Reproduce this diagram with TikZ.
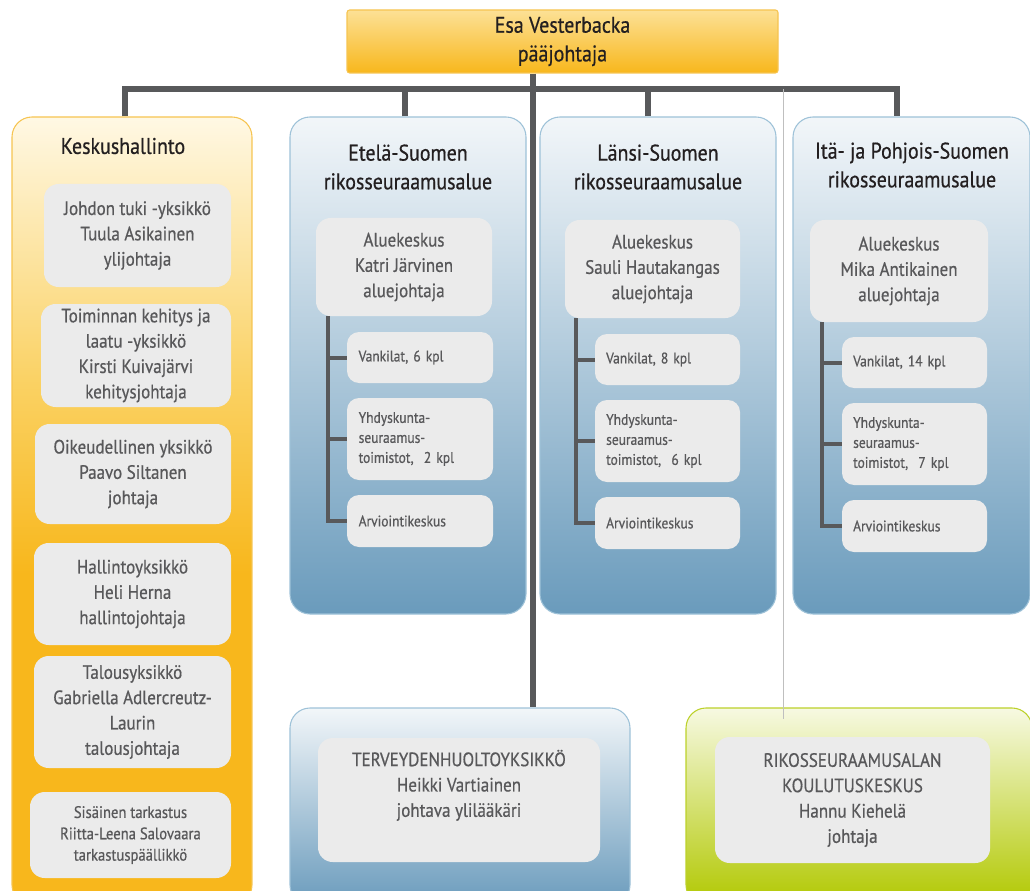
\documentclass[tikz,border=0pt]{standalone}
\usepackage{fontspec}
\setmainfont{PT Sans}[FakeStretch=0.88, FakeBold=0.6]
\usepackage{tikz}

\definecolor{linegrey}{HTML}{58595B}
\definecolor{boxgrey}{HTML}{EBEBEB}
\definecolor{txtgrey}{HTML}{58585A}
\definecolor{txtdark}{HTML}{231F20}
\definecolor{blueTop}{HTML}{F2F6F9}
\definecolor{blueMid}{HTML}{84ADC8}
\definecolor{blueBot}{HTML}{6A9BBC}
\definecolor{blueEdge}{HTML}{9EC2D8}
\definecolor{orTop}{HTML}{FFF8E4}
\definecolor{orMid}{HTML}{FAD162}
\definecolor{orBot}{HTML}{F8B71C}
\definecolor{orEdge}{HTML}{F6C451}
\definecolor{grTop}{HTML}{F7F9E2}
\definecolor{grMid}{HTML}{CCDB52}
\definecolor{grBot}{HTML}{B1C800}
\definecolor{grEdge}{HTML}{BCD12A}

\pgfdeclarehorizontalshading{keskshade}{100bp}{color(0bp)=(orBot); color(46bp)=(orBot);
  color(58bp)=(orMid); color(75bp)=(orTop); color(100bp)=(orTop)}

\tikzset{
  sz/.style 2 args={minimum width=#1*0.75pt, minimum height=#2*0.75pt},
  conn/.style={draw=linegrey, line width=3.8pt},
  brk/.style={draw=linegrey, line width=3pt},
  thinln/.style={draw=black!25, line width=0.7pt},
  bluebox/.style={draw=blueEdge, line width=0.8pt, rounded corners=15pt,
    top color=blueTop, middle color=blueMid, bottom color=blueBot},
  orbox/.style={draw=orEdge, line width=0.8pt, rounded corners=15pt,
    shading=keskshade, shading angle=90},
  grbox/.style={draw=grEdge, line width=0.8pt, rounded corners=15pt,
    top color=grTop, middle color=grMid, bottom color=grBot},
  headbox/.style={draw=orEdge, line width=0.8pt, rounded corners=2pt,
    top color=orTop!40!orMid, bottom color=orBot},
  head/.style={text=txtdark, align=center, font=\fontsize{17}{21.5}\selectfont},
  unit/.style={fill=boxgrey, rounded corners=11pt, text=txtgrey, align=center,
    inner sep=2pt, font=\fontsize{14.5}{19}\selectfont},
  sub/.style={unit, align=left, text width=92pt, inner sep=8pt, rounded corners=9pt,
    font=\fontsize{11.5}{15}\selectfont}
}

\begin{document}
\begin{tikzpicture}[x=0.75pt, y=-0.75pt]
\useasboundingbox (0,0) rectangle (1030,891);
\clip (0,0) rectangle (1030,891);

% outer boxes
\node[orbox, sz={240}{788}] (keskus) at (132,511) {};
\node[bluebox, sz={236}{497}] (etela) at (408,365.5) {};
\node[bluebox, sz={236}{497}] (lansi) at (658,365.5) {};
\node[bluebox, sz={237}{497}] (ita) at (911.5,365.5) {};
\node[bluebox, sz={340}{197}] (tervey) at (460,806.5) {};
\node[grbox, sz={346}{197}] (koulutus) at (859,806.5) {};

% top
\node[headbox, head, sz={431}{63}] (top) at (562.5,41.5) {Esa Vesterbacka\\pääjohtaja};

% connectors
\coordinate (hub) at (533,89);
\coordinate (thin) at (783,89);
\draw[conn] ([shift={(-7,0)}]keskus.north) |- ([shift={(-14.5,0)}]ita.north |- hub)
  -- ([shift={(-14.5,0)}]ita.north);
\draw[conn] ([shift={(-3,0)}]etela.north) -- ([shift={(-3,0)}]etela.north |- hub);
\draw[conn] ([shift={(-10,0)}]lansi.north) -- ([shift={(-10,0)}]lansi.north |- hub);
\draw[conn] (top.south -| hub) -- (tervey.north -| hub);
\draw[thinln] (thin) -- ([yshift=-9]thin |- koulutus.north);

% Keskushallinto
\node[head] (khead) at (123,146) {Keskushallinto};
\node[unit, sz={187}{103}] (k1) at (137.5,235.5) {Johdon tuki -yksikkö\\Tuula Asikainen\\ylijohtaja};
\node[unit, sz={190}{103}] (k2) at (136,355.5) {Toiminnan kehitys ja\\laatu -yksikkö\\Kirsti Kuivajärvi\\kehitysjohtaja};
\node[unit, sz={196}{100}] (k3) at (133,474) {Oikeudellinen yksikkö\\Paavo Siltanen\\johtaja};
\node[unit, sz={197}{102}] (k4) at (132.5,594) {Hallintoyksikkö\\Heli Herna\\hallintojohtaja};
\node[unit, sz={197}{112}] (k5) at (132.5,712) {Talousyksikkö\\Gabriella Adlercreutz-\\Laurin\\talousjohtaja};
\node[unit, sz={201}{86}, font=\fontsize{12.5}{16}\selectfont] (k6) at (130.5,835)
  {Sisäinen tarkastus\\Riitta-Leena Salovaara\\tarkastuspäällikkö};

% Etela-Suomi
\node[head] (ehead) at (408,167) {Etelä-Suomen\\rikosseuraamusalue};
\node[unit, sz={176}{98}] (ak1) at (404,267) {Aluekeskus\\Katri Järvinen\\aluejohtaja};
\node[sub, sz={146}{51}] (evan) at (420,357.5) {Vankilat, 6 kpl};
\node[sub, sz={146}{82}] (eyht) at (420,439) {Yhdyskunta-\\seuraamus-\\toimistot,~~2 kpl};
\node[sub, sz={146}{52}] (earv) at (420,521) {Arviointikeskus};
\draw[brk] ([shift={(12,0)}]ak1.south west) |- (earv.west);
\draw[brk] ([shift={(12,0)}]ak1.south west |- evan.west) -- (evan.west);
\draw[brk] ([shift={(12,0)}]ak1.south west |- eyht.west) -- (eyht.west);

% Lansi-Suomi
\node[head] (lhead) at (658,167) {Länsi-Suomen\\rikosseuraamusalue};
\node[unit, sz={175}{98}] (ak2) at (652.5,269) {Aluekeskus\\Sauli Hautakangas\\aluejohtaja};
\node[sub, sz={145}{51}] (lvan) at (667.5,359.5) {Vankilat, 8 kpl};
\node[sub, sz={145}{82}] (lyht) at (667.5,441) {Yhdyskunta-\\seuraamus-\\toimistot,~~6 kpl};
\node[sub, sz={145}{52}] (larv) at (667.5,523) {Arviointikeskus};
\draw[brk] ([shift={(11,0)}]ak2.south west) |- (larv.west);
\draw[brk] ([shift={(11,0)}]ak2.south west |- lvan.west) -- (lvan.west);
\draw[brk] ([shift={(11,0)}]ak2.south west |- lyht.west) -- (lyht.west);

% Ita- ja Pohjois-Suomi
\node[head] (ihead) at (912,165) {Itä- ja Pohjois-Suomen\\rikosseuraamusalue};
\node[unit, sz={178}{102}] (ak3) at (899,271) {Aluekeskus\\Mika Antikainen\\aluejohtaja};
\node[sub, sz={145}{51}] (ivan) at (914.5,362.5) {Vankilat, 14 kpl};
\node[sub, sz={145}{82}] (iyht) at (914.5,444) {Yhdyskunta-\\seuraamus-\\toimistot,~~7 kpl};
\node[sub, sz={145}{52}] (iarv) at (914.5,526) {Arviointikeskus};
\draw[brk] ([shift={(12,0)}]ak3.south west) |- (iarv.west);
\draw[brk] ([shift={(12,0)}]ak3.south west |- ivan.west) -- (ivan.west);
\draw[brk] ([shift={(12,0)}]ak3.south west |- iyht.west) -- (iyht.west);

% bottom units
\node[unit, sz={282}{124}] (tin) at (459,800) {TERVEYDENHUOLTOYKSIKKÖ\\Heikki Vartiainen\\johtava ylilääkäri\\[6pt]};
\node[unit, sz={275}{126}] (kin) at (852.5,800) {RIKOSSEURAAMUSALAN\\KOULUTUSKESKUS\\Hannu Kiehelä\\johtaja};

\end{tikzpicture}
\end{document}
